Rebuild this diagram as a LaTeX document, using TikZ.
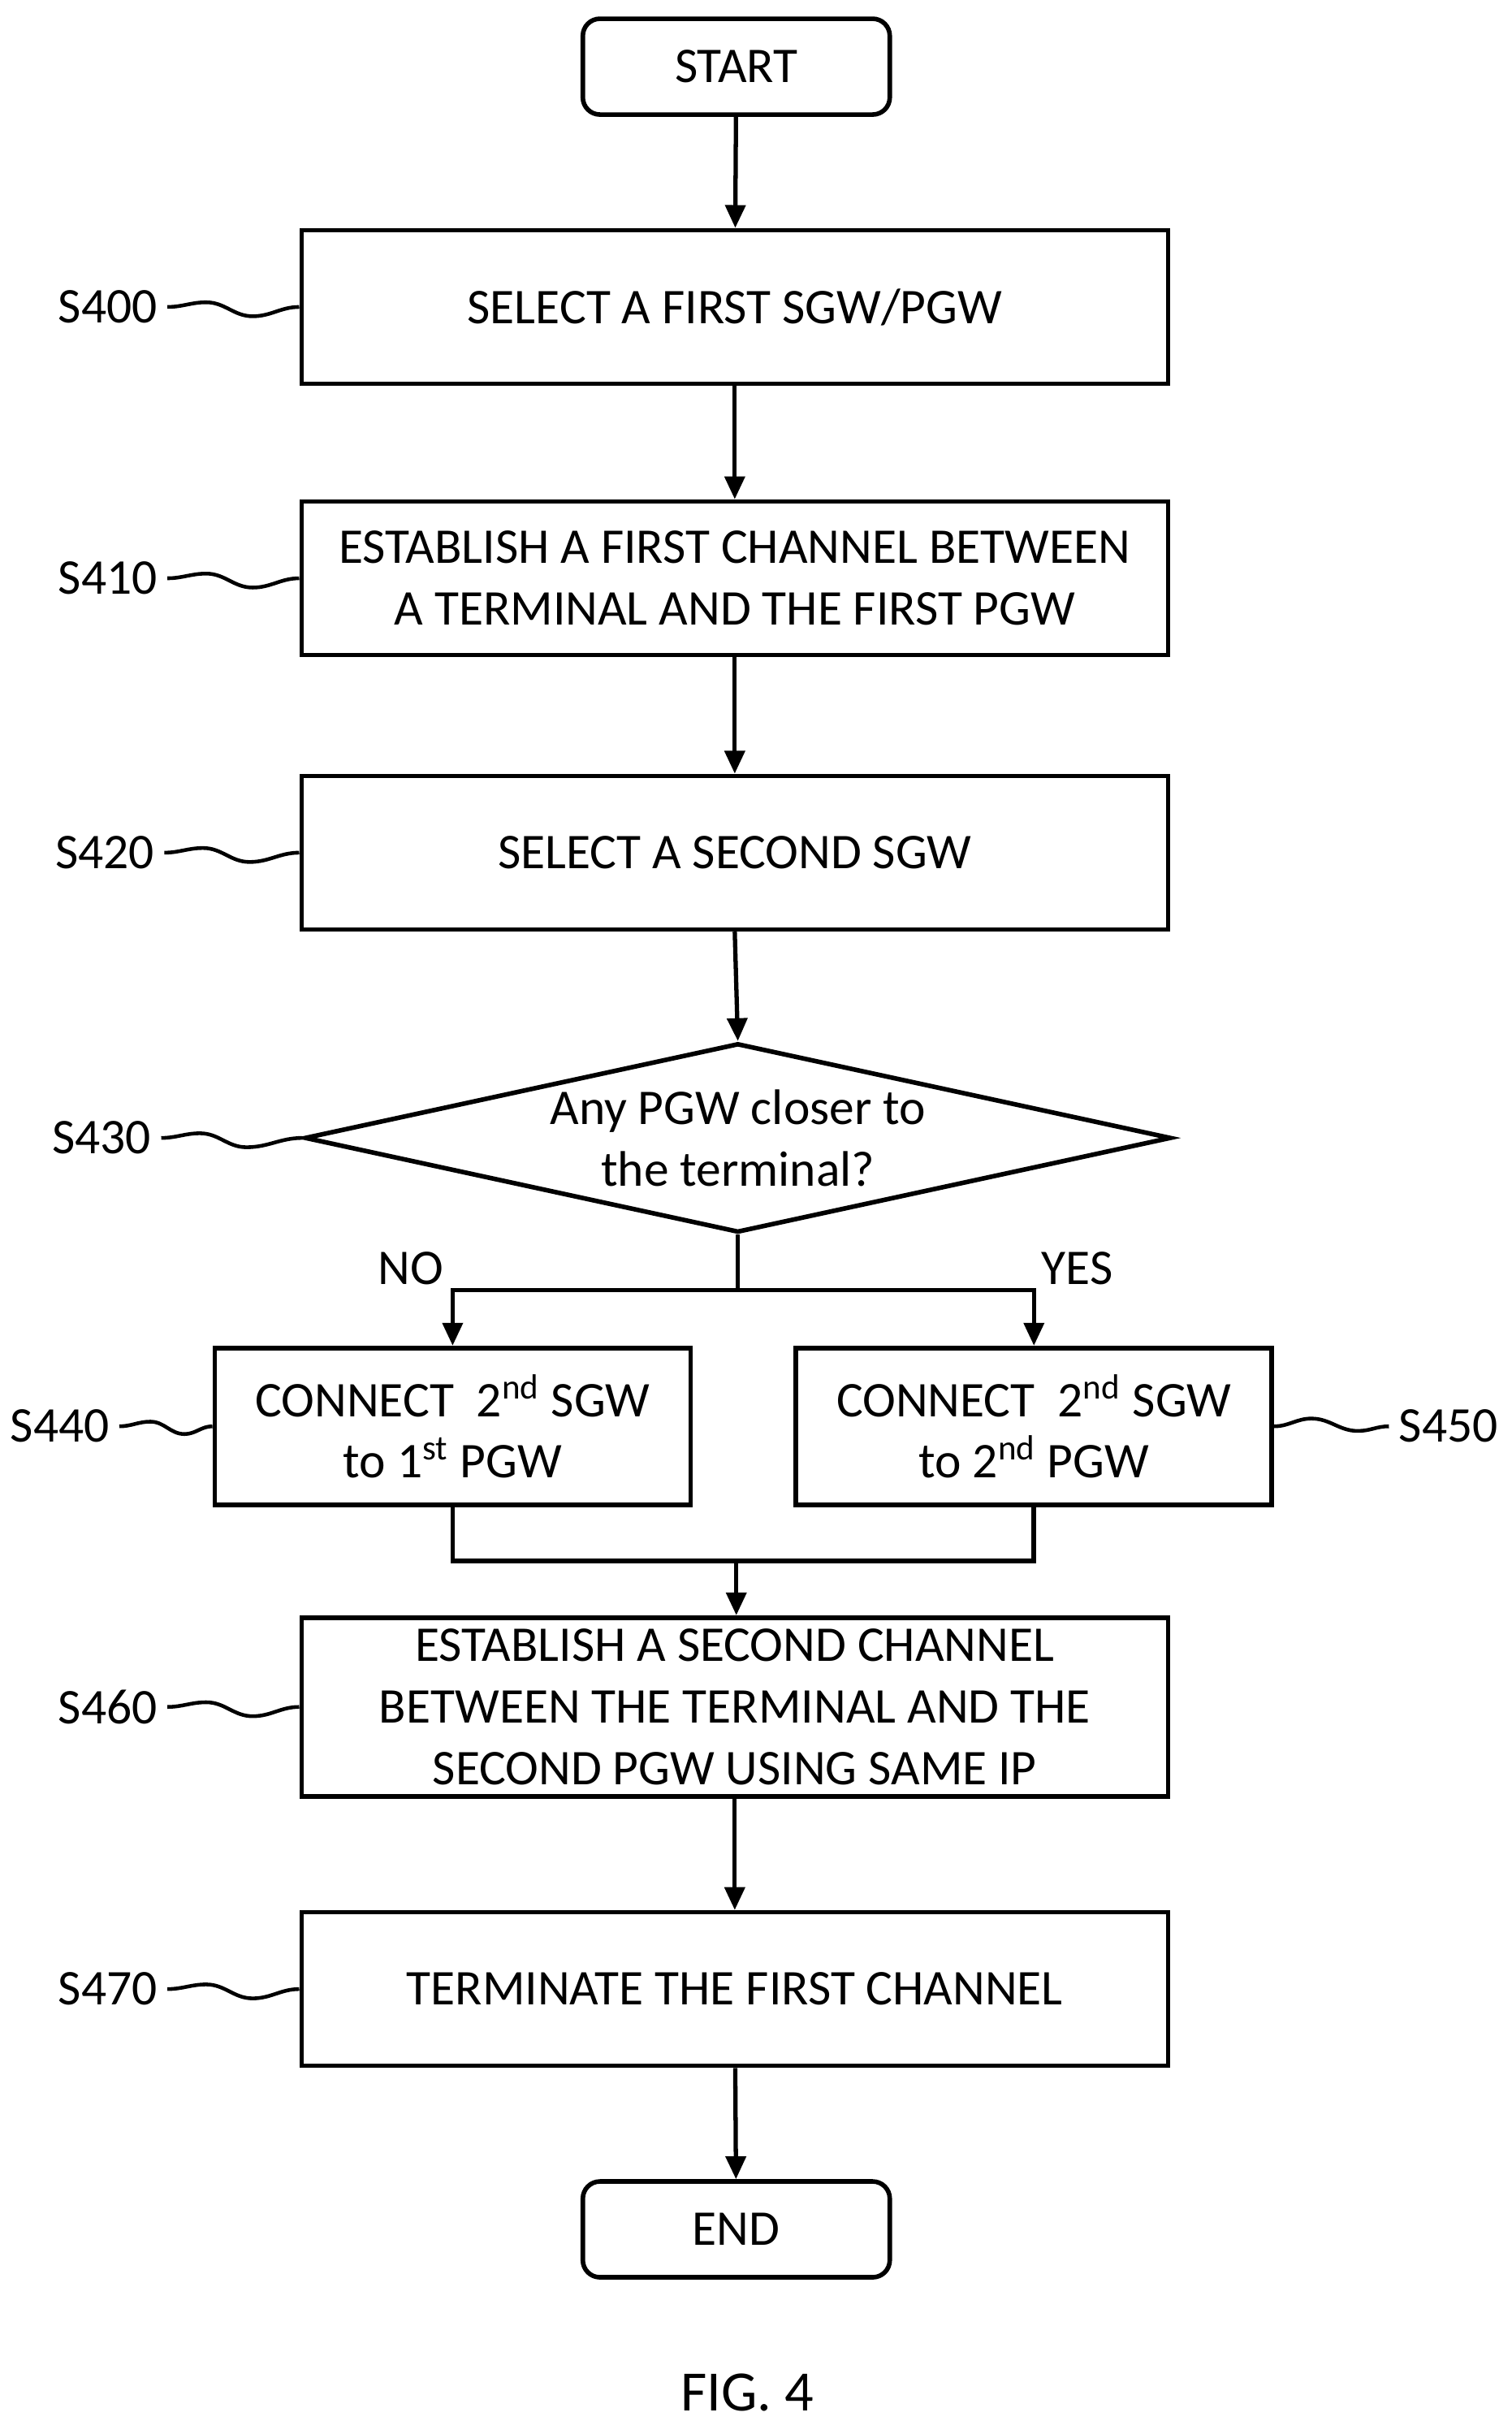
\documentclass[tikz,border=0pt]{standalone}
\usepackage{fontspec}
\setmainfont{Carlito}
\usetikzlibrary{shapes.geometric,arrows.meta}
\begin{document}
\begin{tikzpicture}[x=0.01909cm,y=-0.01909cm,
  every node/.style={font=\fontsize{17.5}{21.5}\selectfont,align=center},
  box/.style={draw,line width=1.6pt,minimum width=10.67cm,minimum height=1.89cm,inner sep=0pt},
  sbox/.style={box,minimum width=5.86cm,minimum height=1.93cm},
  term/.style={draw,line width=1.6pt,rounded corners=6pt,minimum width=3.78cm,minimum height=1.18cm},
  arr/.style={line width=1.5pt,-{Triangle[length=8pt,width=7pt]}},
  ln/.style={line width=1.6pt},
  squig/.style={line width=1.3pt}]
\useasboundingbox (0,0) rectangle (975,1570);
\node[term] (start) at (475,43) {START};
\node[box] (s400) at (474,198) {SELECT A FIRST SGW/PGW};
\node[box] (s410) at (474,373) {ESTABLISH A FIRST CHANNEL BETWEEN\\A TERMINAL AND THE FIRST PGW};
\node[box] (s420) at (474,550) {SELECT A SECOND SGW};
\node[diamond,draw,line width=1.6pt,minimum width=10.67cm,minimum height=2.33cm,inner sep=0pt] (s430) at (476,734) {};
\node at (s430) {Any PGW closer to\\the terminal?};
\node[sbox] (s440) at (292,920) {CONNECT\ \ 2\textsuperscript{nd} SGW\\to 1\textsuperscript{st} PGW};
\node[sbox] (s450) at (667,920) {CONNECT\ \ 2\textsuperscript{nd} SGW\\to 2\textsuperscript{nd} PGW};
\node[box,minimum height=2.2cm] (s460) at (474,1101) {ESTABLISH A SECOND CHANNEL\\BETWEEN THE TERMINAL AND THE\\SECOND PGW USING SAME IP};
\node[box] (s470) at (474,1283) {TERMINATE THE FIRST CHANNEL};
\node[term] (end) at (475,1438) {END};
\node (fig) at (482,1543) {\fontsize{20}{24}\selectfont FIG. 4};
% step labels
\node[anchor=east] (l400) at (108,198) {S400};
\node[anchor=east] (l410) at (108,373) {S410};
\node[anchor=east] (l420) at (106,550) {S420};
\node[anchor=east] (l430) at (104,734) {S430};
\node[anchor=east] (l440) at (77,920) {S440};
\node[anchor=west] (l450) at (896,920) {S450};
\node[anchor=east] (l460) at (108,1101) {S460};
\node[anchor=east] (l470) at (108,1283) {S470};
\node (no) at (265,818) {NO};
\node (yes) at (695,818) {YES};
% squiggles
\foreach \l/\b in {l400/s400,l410/s410,l420/s420,l460/s460,l470/s470}
  \draw[squig] (\l.east) to[out=0,in=180] ++(25,-3) to[out=0,in=180] ++(30,9) to[out=0,in=180] (\b.west);
\draw[squig] (l430.east) to[out=0,in=180] ++(25,-3) to[out=0,in=180] ++(30,9) to[out=0,in=180] (s430.west);
\draw[squig] (l440.east) to[out=0,in=180] ++(20,-3) to[out=0,in=180] ++(22,8) to[out=0,in=180] (s440.west);
\draw[squig] (l450.west) to[out=180,in=0] ++(-20,3) to[out=180,in=0] ++(-30,-8) to[out=180,in=0] (s450.east);
% connectors
\draw[arr] (start) -- (s400);
\draw[arr] (s400) -- (s410);
\draw[arr] (s410) -- (s420);
\draw[arr] (s420.south) -- (s430.north);
\coordinate (split) at (476,832);
\draw[ln] (s430.south) -- (split);
\draw[arr] (split) -| (s440.north);
\draw[arr] (split) -| (s450.north);
\coordinate (join) at (475,1007);
\draw[ln] (s440.south) |- (join) -| (s450.south);
\draw[arr] (join) -- (join |- s460.north);
\draw[arr] (s460) -- (s470);
\draw[arr] (s470) -- (end);
\end{tikzpicture}
\end{document}
